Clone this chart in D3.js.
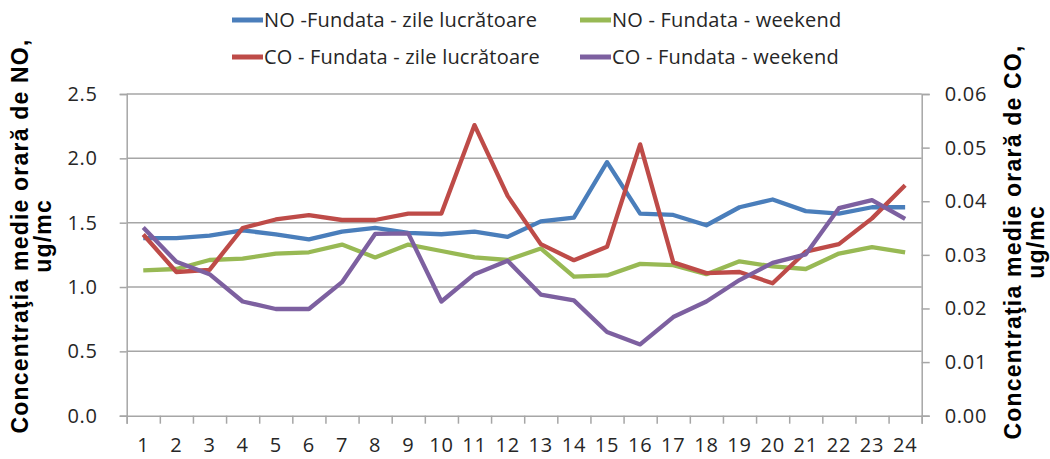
<!DOCTYPE html>
<html>
<head>
<meta charset="utf-8">
<script src="https://cdnjs.cloudflare.com/ajax/libs/d3/7.8.5/d3.min.js"></script>
<style>
body{margin:0;background:#fff;}
#chart{width:1050px;height:459px;}
</style>
</head>
<body>
<div id="chart"></div>
<script>
var hours=d3.range(1,25).map(String);
var noWork=[1.38,1.38,1.40,1.44,1.41,1.37,1.43,1.46,1.42,1.41,1.43,1.39,1.51,1.54,1.97,1.57,1.56,1.48,1.62,1.68,1.59,1.57,1.62,1.62];
var noWeekend=[1.13,1.14,1.21,1.22,1.26,1.27,1.33,1.23,1.33,1.28,1.23,1.21,1.30,1.08,1.09,1.18,1.17,1.10,1.20,1.16,1.14,1.26,1.31,1.27];
var coWork=[0.0338,0.0268,0.0272,0.0350,0.0366,0.0374,0.0365,0.0365,0.0377,0.0377,0.0542,0.0410,0.0320,0.0290,0.0315,0.0506,0.0286,0.0266,0.0268,0.0247,0.0306,0.0320,0.0368,0.0430];
var coWeekend=[0.0351,0.0287,0.0264,0.0213,0.0199,0.0199,0.0249,0.0339,0.0340,0.0213,0.0264,0.0289,0.0226,0.0215,0.0156,0.0133,0.0184,0.0213,0.0253,0.0285,0.0301,0.0387,0.0402,0.0367];
var noTicks=[0,0.5,1,1.5,2,2.5];
var coTicks=[0,0.01,0.02,0.03,0.04,0.05,0.06];
var seriesNames=["NO -Fundata - zile lucrătoare","NO - Fundata - weekend","CO - Fundata - zile lucrătoare","CO - Fundata - weekend"];
var seriesColors=["#4A7EBB","#98B954","#BE4B48","#7D60A0"];

var width=1050,height=459;
var plotL=126.7,plotR=921.7,plotT=94,plotB=415.7;
var svg=d3.select("#chart").append("svg")
	.attr("width",width)
	.attr("height",height);

var x=d3.scaleBand().domain(hours).range([plotL,plotR]);
var xEdge=d3.scaleLinear().domain([0,24]).range([plotL,plotR]);
var yNO=d3.scaleLinear().domain([0,2.5]).range([plotB,plotT]);
var yCO=d3.scaleLinear().domain([0,0.06]).range([plotB,plotT]);

// grid lines
svg.append("g").selectAll("line")
	.data(noTicks.slice(1))
	.enter().append("line")
	.attr("x1",plotL).attr("x2",plotR)
	.attr("y1",function(d){return yNO(d);})
	.attr("y2",function(d){return yNO(d);})
	.style("stroke","#A6A6A6")
	.style("stroke-width",1.5);

var tickFont="'Open Sans', sans-serif";

// left axis
var gl=svg.append("g")
	.attr("transform","translate("+plotL+",0)")
	.call(d3.axisLeft(yNO).tickValues(noTicks).tickSize(7).tickPadding(22).tickFormat(d3.format(".1f")));
// right axis
var gr=svg.append("g")
	.attr("transform","translate("+plotR+",0)")
	.call(d3.axisRight(yCO).tickValues(coTicks).tickSize(8).tickPadding(15).tickFormat(d3.format(".2f")));
// bottom ticks at boundaries
var gb=svg.append("g")
	.attr("transform","translate(0,"+plotB+")")
	.call(d3.axisBottom(xEdge).tickValues(d3.range(0,25)).tickSize(8).tickFormat(""));
// bottom labels
var gbl=svg.append("g")
	.attr("transform","translate(0,"+plotB+")")
	.call(d3.axisBottom(x).tickSize(0).tickPadding(22));
gbl.select(".domain").remove();

[gl,gr,gb].forEach(function(g){
	g.select(".domain").style("stroke","#A6A6A6").style("stroke-width",1.5);
	g.selectAll(".tick line").style("stroke","#A6A6A6").style("stroke-width",1.5);
});
[gl,gr,gbl].forEach(function(g){
	g.selectAll("text")
		.style("font-family",tickFont)
		.style("font-size","20px")
		.style("letter-spacing","0.7px")
		.style("fill","#262626");
});

// series lines
var lineNO=d3.line()
	.x(function(d,i){return x(hours[i])+x.bandwidth()/2;})
	.y(function(d){return yNO(d);});
var lineCO=d3.line()
	.x(function(d,i){return x(hours[i])+x.bandwidth()/2;})
	.y(function(d){return yCO(d);});

var drawList=[
	{data:noWork,line:lineNO,color:seriesColors[0]},
	{data:noWeekend,line:lineNO,color:seriesColors[1]},
	{data:coWork,line:lineCO,color:seriesColors[2]},
	{data:coWeekend,line:lineCO,color:seriesColors[3]}
];
drawList.forEach(function(s){
	svg.append("path")
		.datum(s.data)
		.attr("d",s.line)
		.style("fill","none")
		.style("stroke",s.color)
		.style("stroke-width",4.3)
		.style("stroke-linejoin","round");
});

// legend
var legPos=[[232,20],[580,20],[232,57],[580,57]];
seriesNames.forEach(function(n,i){
	var g=svg.append("g").attr("transform","translate("+legPos[i][0]+","+legPos[i][1]+")");
	g.append("line")
		.attr("x1",0).attr("x2",31)
		.attr("y1",0).attr("y2",0)
		.style("stroke",seriesColors[i])
		.style("stroke-width",5);
	g.append("text")
		.attr("x",32)
		.attr("y",7)
		.text(n)
		.style("font-family","'Open Sans', sans-serif")
		.style("font-size","20px")
		.style("letter-spacing","0.2px")
		.style("fill","#262626");
});

// axis titles
function axisTitle(cx,cy,lines){
	var t=svg.append("text")
		.attr("transform","translate("+cx+","+cy+") rotate(-90)")
		.attr("text-anchor","middle")
		.style("font-family","'Liberation Sans', Arial, sans-serif")
		.style("font-weight","bold")
		.style("font-size","23px")
		.style("letter-spacing","1.2px")
		.style("fill","#000");
	lines.forEach(function(l,i){
		t.append("tspan").attr("x",0).attr("dy",i==0?0:23).text(l);
	});
}
axisTitle(28,236,["Concentraţia medie orară de NO,","ug/mc"]);
axisTitle(1021,242,["Concentraţia medie orară de CO,","ug/mc"]);
</script>
</body>
</html>
